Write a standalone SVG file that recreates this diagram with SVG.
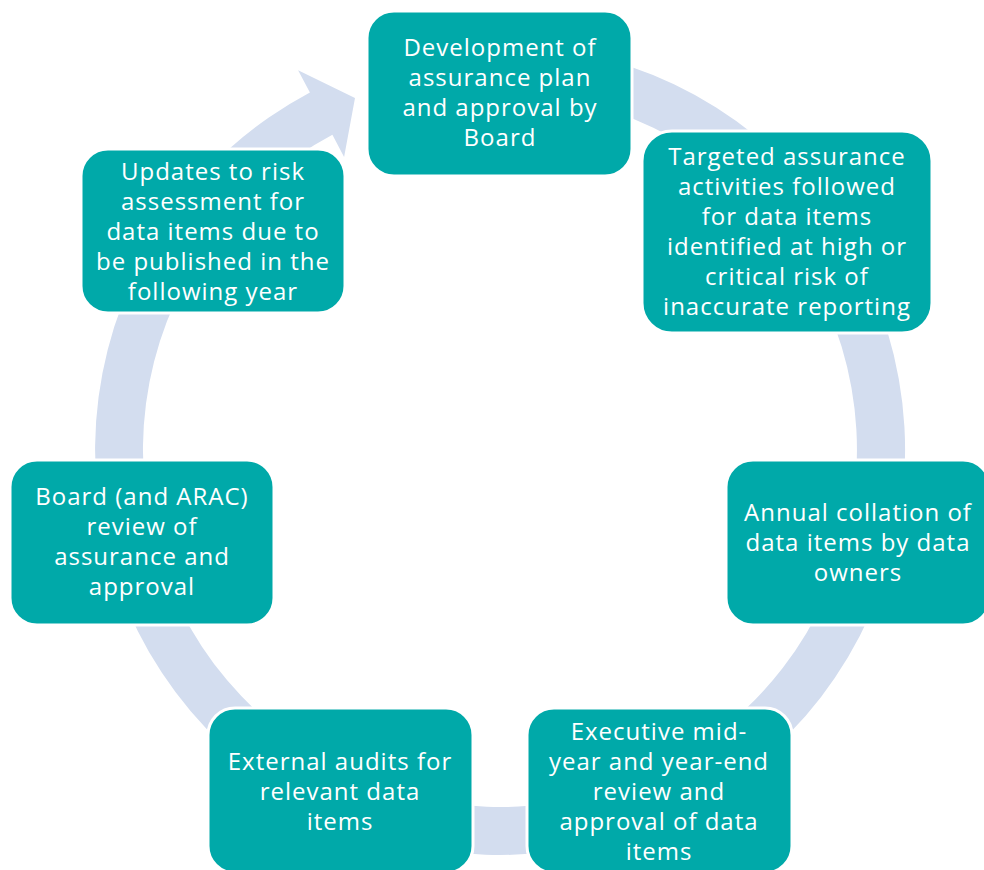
<svg xmlns="http://www.w3.org/2000/svg" width="984" height="870" viewBox="0 0 984 870">
<style>
.box{fill:#00A9A9;stroke:#ffffff;stroke-width:3}
.t{font-family:"Open Sans","Noto Sans",sans-serif;font-size:24px;letter-spacing:1px;fill:#ffffff;text-anchor:middle}
.ring{fill:#D3DDEF}
</style>
<rect width="984" height="870" fill="#ffffff"/>
<g id="connectors">
<path class="ring" d="M 535.3 46.5 A 405 405 0 1 1 309.9 92.4 L 298.1 70.3 L 355 98 L 344.1 156.9 L 332.4 134.8 A 357 357 0 1 0 531.1 94.4 Z"/>
</g>
<g id="n1">
<rect class="box" x="367" y="11" width="265" height="165" rx="27"/>
<text class="t"><tspan x="500" y="56">Development of</tspan><tspan x="500" y="86">assurance plan</tspan><tspan x="500" y="116">and approval by</tspan><tspan x="500" y="146">Board</tspan></text>
</g>
<g id="n2">
<rect class="box" x="642" y="131" width="290" height="202" rx="30"/>
<text class="t"><tspan x="787" y="165">Targeted assurance</tspan><tspan x="787" y="195">activities followed</tspan><tspan x="787" y="225">for data items</tspan><tspan x="787" y="255">identified at high or</tspan><tspan x="787" y="285">critical risk of</tspan><tspan x="787" y="315">inaccurate reporting</tspan></text>
</g>
<g id="n3">
<rect class="box" x="726" y="460" width="264" height="165" rx="27"/>
<text class="t"><tspan x="858" y="521">Annual collation of</tspan><tspan x="858" y="551">data items by data</tspan><tspan x="858" y="581">owners</tspan></text>
</g>
<g id="n4">
<rect class="box" x="527" y="708" width="265" height="165" rx="27"/>
<text class="t"><tspan x="659" y="740">Executive mid-</tspan><tspan x="659" y="770">year and year-end</tspan><tspan x="659" y="800">review and</tspan><tspan x="659" y="830">approval of data</tspan><tspan x="659" y="860">items</tspan></text>
</g>
<g id="n5">
<rect class="box" x="208" y="708" width="265" height="165" rx="27"/>
<text class="t"><tspan x="340" y="770">External audits for</tspan><tspan x="340" y="800">relevant data</tspan><tspan x="340" y="830">items</tspan></text>
</g>
<g id="n6">
<rect class="box" x="10" y="460" width="264" height="165" rx="27"/>
<text class="t"><tspan x="142" y="505">Board (and ARAC)</tspan><tspan x="142" y="535">review of</tspan><tspan x="142" y="565">assurance and</tspan><tspan x="142" y="595">approval</tspan></text>
</g>
<g id="n7">
<rect class="box" x="81" y="149" width="264" height="164" rx="27"/>
<text class="t"><tspan x="213" y="180">Updates to risk</tspan><tspan x="213" y="210">assessment for</tspan><tspan x="213" y="240">data items due to</tspan><tspan x="213" y="270">be published in the</tspan><tspan x="213" y="300">following year</tspan></text>
</g>
</svg>
